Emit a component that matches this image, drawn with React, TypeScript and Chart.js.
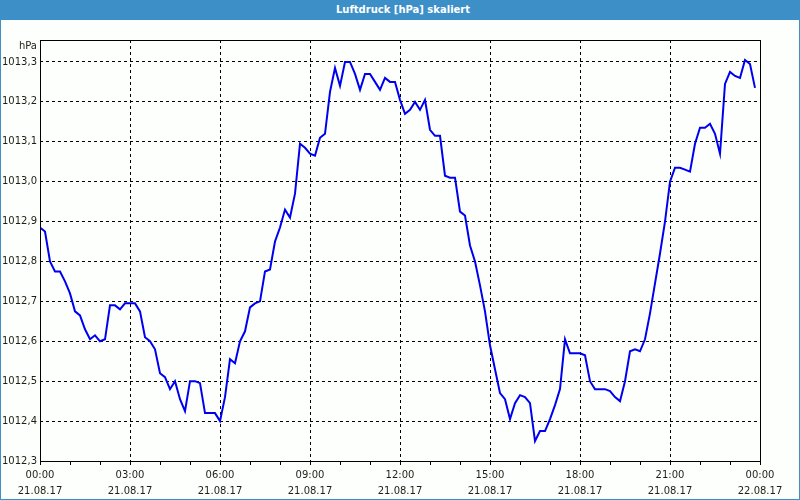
import React, { useEffect, useRef } from 'react';
import { Chart, registerables } from 'chart.js';

Chart.register(...registerables);

const chartTitle = 'Luftdruck [hPa] skaliert';
const unitLabel = 'hPa';
const stepMinutes = 10;

// Luftdruck alle 10 Minuten ab 21.08.17 00:00
const pressure = [
  1012.885, 1012.875, 1012.8, 1012.775, 1012.775, 1012.75, 1012.72, 1012.675, 1012.665, 1012.63,
  1012.605, 1012.615, 1012.6, 1012.605, 1012.69, 1012.69, 1012.68, 1012.695, 1012.695, 1012.695,
  1012.675, 1012.61, 1012.6, 1012.58, 1012.52, 1012.51, 1012.48, 1012.5, 1012.455, 1012.425,
  1012.5, 1012.5, 1012.495, 1012.42, 1012.42, 1012.42, 1012.4, 1012.46, 1012.555, 1012.545,
  1012.6, 1012.625, 1012.685, 1012.695, 1012.7, 1012.775, 1012.78, 1012.85, 1012.885, 1012.93,
  1012.91, 1012.97, 1013.095, 1013.085, 1013.07, 1013.065, 1013.11, 1013.12, 1013.225, 1013.285,
  1013.24, 1013.3, 1013.3, 1013.27, 1013.23, 1013.27, 1013.27, 1013.25, 1013.23, 1013.26,
  1013.25, 1013.25, 1013.205, 1013.17, 1013.18, 1013.2, 1013.18, 1013.205, 1013.13, 1013.115,
  1013.115, 1013.015, 1013.01, 1013.01, 1012.925, 1012.915, 1012.84, 1012.8, 1012.74, 1012.675,
  1012.59, 1012.53, 1012.47, 1012.455, 1012.405, 1012.445, 1012.465, 1012.46, 1012.445, 1012.35,
  1012.375, 1012.375, 1012.405, 1012.44, 1012.48, 1012.605, 1012.57, 1012.57, 1012.57, 1012.565,
  1012.5, 1012.48, 1012.48, 1012.48, 1012.475, 1012.46, 1012.45, 1012.5, 1012.575, 1012.58,
  1012.575, 1012.605, 1012.67, 1012.745, 1012.82, 1012.9, 1013.0, 1013.035, 1013.035, 1013.03,
  1013.025, 1013.095, 1013.135, 1013.135, 1013.145, 1013.12, 1013.07, 1013.245, 1013.275, 1013.265,
  1013.26, 1013.305, 1013.295, 1013.235,
];

const xTickMinutes = [0, 180, 360, 540, 720, 900, 1080, 1260, 1440];
const xTimeLabels = ['00:00', '03:00', '06:00', '09:00', '12:00', '15:00', '18:00', '21:00', '00:00'];
const xDateLabels = ['21.08.17', '21.08.17', '21.08.17', '21.08.17', '21.08.17', '21.08.17', '21.08.17', '21.08.17', '22.08.17'];
const yTicks = [1012.3, 1012.4, 1012.5, 1012.6, 1012.7, 1012.8, 1012.9, 1013.0, 1013.1, 1013.2, 1013.3];
const yTickLabels = ['1012,3', '1012,4', '1012,5', '1012,6', '1012,7', '1012,8', '1012,9', '1013,0', '1013,1', '1013,2', '1013,3'];
const yMin = 1012.3;
const yMax = 1013.355;
const xMin = 0;
const xMax = 1440;

const FONT = "'DejaVu Sans', Verdana, sans-serif";
const TEXT = '#1e1e14';

export default function App() {
  const ref = useRef<HTMLCanvasElement | null>(null);

  useEffect(() => {
    document.body.style.margin = '0';
    const canvas = ref.current;
    if (!canvas) return;

    const framePlugin = {
      id: 'frame',
      afterDraw(chart: any) {
        const { ctx, chartArea } = chart;
        const { left, top, right, bottom } = chartArea;
        ctx.save();
        ctx.strokeStyle = '#000';
        ctx.lineWidth = 1;
        ctx.setLineDash([]);
        ctx.strokeRect(Math.round(left) + 0.5, Math.round(top) + 0.5, Math.round(right - left), Math.round(bottom - top));
        ctx.fillStyle = TEXT;
        ctx.font = `10px ${FONT}`;
        ctx.textAlign = 'right';
        ctx.textBaseline = 'middle';
        ctx.fillText(unitLabel, left - 3, top + 6);
        ctx.restore();
      },
    };

    const chart = new Chart(canvas, {
      type: 'line',
      data: {
        datasets: [
          {
            data: pressure.map((v, i) => ({ x: i * stepMinutes, y: v })),
            borderColor: '#0000f0',
            borderWidth: 2,
            pointRadius: 0,
            tension: 0,
            fill: false,
          },
        ],
      },
      options: {
        responsive: false,
        animation: false,
        events: [],
        layout: { padding: { top: 20, right: 39, left: 0, bottom: 0 } },
        plugins: {
          legend: { display: false },
          tooltip: { enabled: false },
          title: { display: false },
        },
        scales: {
          x: {
            type: 'linear',
            min: xMin,
            max: xMax,
            afterFit(scale: any) {
              scale.height = 38;
            },
            ticks: {
              stepSize: 60,
              autoSkip: false,
              maxRotation: 0,
              padding: 2,
              color: TEXT,
              font: { family: FONT, size: 10, lineHeight: 1.6 },
              callback(value: any) {
                const idx = xTickMinutes.indexOf(Number(value));
                return idx >= 0 ? [xTimeLabels[idx], xDateLabels[idx]] : '';
              },
            },
            grid: {
              color: (ctx: any) => (ctx.tick && ctx.tick.value % 180 === 0 ? '#000' : 'rgba(0,0,0,0)'),
              tickColor: '#000',
              tickLength: 4,
              lineWidth: 1,
            },
            border: { display: false, dash: [3, 3] },
          },
          y: {
            type: 'linear',
            min: yMin,
            max: yMax,
            afterBuildTicks(scale: any) {
              scale.ticks = yTicks.map((v) => ({ value: v }));
            },
            afterFit(scale: any) {
              scale.width = 39;
            },
            ticks: {
              padding: 3,
              color: TEXT,
              font: { family: FONT, size: 10 },
              callback(_value: any, index: number) {
                return yTickLabels[index];
              },
            },
            grid: {
              color: '#000',
              drawTicks: false,
              lineWidth: 1,
            },
            border: { display: false, dash: [3, 3] },
          },
        },
      },
      plugins: [framePlugin],
    } as any);

    return () => chart.destroy();
  }, []);

  return (
    <div
      style={{
        width: 800,
        height: 500,
        boxSizing: 'border-box',
        borderLeft: '1px solid #3d8fc7',
        borderRight: '1px solid #3d8fc7',
        borderBottom: '1px solid #3d8fc7',
        background: '#fcfffc',
        overflow: 'hidden',
      }}
    >
      <div
        style={{
          height: 20,
          background: '#3d8fc7',
          color: '#fff',
          font: `bold 10px ${FONT}`,
          lineHeight: '20px',
          textAlign: 'center',
          marginLeft: -1,
          marginRight: -1,
          paddingLeft: 6,
        }}
      >
        {chartTitle}
      </div>
      <canvas ref={ref} width={798} height={479} style={{ display: 'block', width: 798, height: 479 }} />
    </div>
  );
}
